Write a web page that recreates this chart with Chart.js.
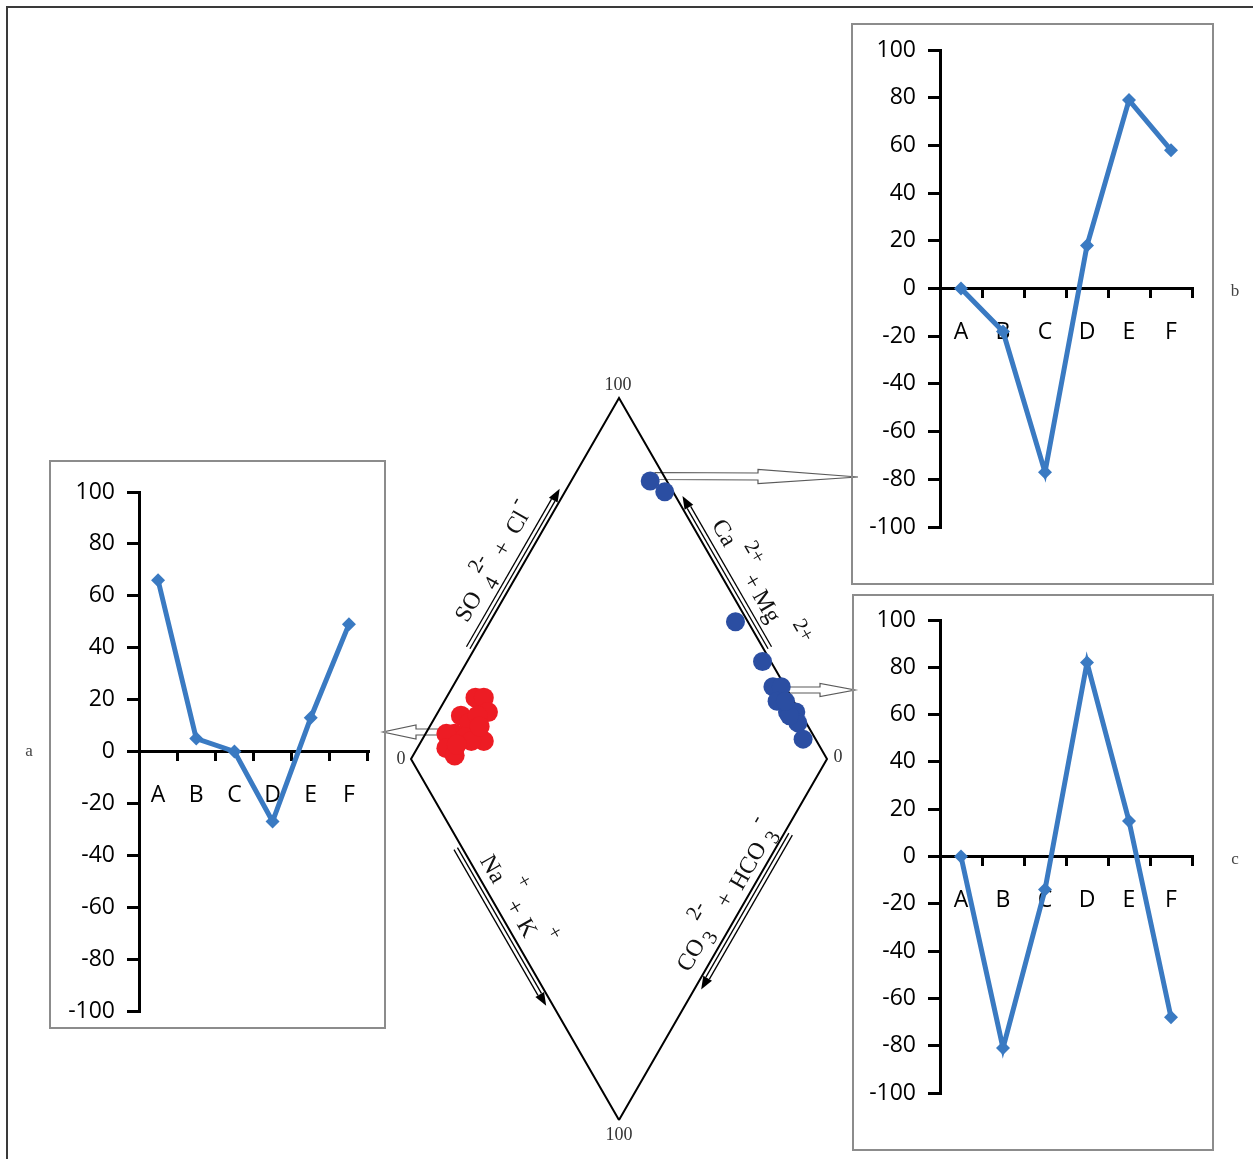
<!DOCTYPE html>
<html>
<head>
<meta charset="utf-8">
<title>Diagrama de Piper</title>
<script src="https://cdn.jsdelivr.net/npm/chart.js@4.4.1/dist/chart.umd.min.js"></script>
<style>
  body { margin: 0; background: #fff; }
  #pagina { position: relative; width: 1253px; height: 1159px; overflow: hidden; background: #fff; }
  #piper { position: absolute; left: 0; top: 0; }
  .caixa { position: absolute; border: 2px solid #8c8c8c; }
  .caixa canvas { display: block; }
</style>
</head>
<body>
<div id="pagina">
  <canvas id="piper" width="1253" height="1159"></canvas>
  <div class="caixa" style="left:49px;top:460px;"><canvas id="graficoA" width="333" height="565"></canvas></div>
  <div class="caixa" style="left:851px;top:23px;"><canvas id="graficoB" width="359" height="558"></canvas></div>
  <div class="caixa" style="left:852px;top:594px;"><canvas id="graficoC" width="358" height="553"></canvas></div>
</div>
<script>
// Categorias e valores dos gráficos a, b, c
const categorias = ['A', 'B', 'C', 'D', 'E', 'F'];
const valoresA = [66, 5, 0, -27, 13, 49];
const valoresB = [0, -18, -77, 18, 79, 58];
const valoresC = [0, -81, -14, 82, 15, -68];
const ticksY = [-100, -80, -60, -40, -20, 0, 20, 40, 60, 80, 100];

// Pontos do diagrama (% SO4+Cl e % Ca+Mg)
const vermelhoSO4Cl = [24, 26, 25, 18, 19, 22, 14, 12, 20, 16, 10, 11, 17, 21, 13];
const vermelhoCaMg  = [93, 91, 88, 94, 91, 90, 93, 95, 85, 90, 93, 90, 88, 88, 91];
const azulSO4Cl = [96, 98, 97, 98, 97, 99, 96, 97, 99, 98, 97, 97, 98];
const azulCaMg  = [81, 76, 41, 29, 23, 21, 20, 16, 14, 12, 8.5, 15, 18];

// Contorno do losango: base, esquerda, topo, direita, base
const losangoSO4Cl = [0, 0, 100, 100, 0];
const losangoCaMg  = [0, 100, 100, 0, 0];

const R3 = Math.sqrt(3);
const corLinha = '#3a7ac2';
const fonteEixo = { family: 'Open Sans', size: 23 };
const fonteSerif = '"Liberation Serif", "DejaVu Serif", serif';

// Converte (SO4+Cl, Ca+Mg) para coordenadas do losango
function paraLosango(s, c) {
    return { x: (s - c) / 2, y: (s + c) / 2 * R3 };
}

function pontos(listaS, listaC) {
    return listaS.map((s, i) => paraLosango(s, listaC[i]));
}

function pix(chart, s, c) {
    const p = paraLosango(s, c);
    return { x: chart.scales.x.getPixelForValue(p.x), y: chart.scales.y.getPixelForValue(p.y) };
}

// Seta vazada (contorno cinza, fundo branco)
function setaVazada(ctx, x1, y1, x2, y2, meiaHaste, meiaPonta, compPonta) {
    const ang = Math.atan2(y2 - y1, x2 - x1);
    const L = Math.hypot(x2 - x1, y2 - y1);
    ctx.save();
    ctx.translate(x1, y1);
    ctx.rotate(ang);
    ctx.beginPath();
    ctx.moveTo(0, -meiaHaste);
    ctx.lineTo(L - compPonta, -meiaHaste);
    ctx.lineTo(L - compPonta, -meiaPonta);
    ctx.lineTo(L, 0);
    ctx.lineTo(L - compPonta, meiaPonta);
    ctx.lineTo(L - compPonta, meiaHaste);
    ctx.lineTo(0, meiaHaste);
    ctx.closePath();
    ctx.fillStyle = '#fff';
    ctx.fill();
    ctx.strokeStyle = '#5a5a5a';
    ctx.lineWidth = 1.2;
    ctx.stroke();
    ctx.restore();
}

// Arestas com seta e rótulo
const arestas = [
    { de: [0, 100], para: [100, 100], t0: 0.30, t1: 0.74, lado: -1, ang: -Math.PI / 3, tr: 0.53, off: 25,
      partes: [['SO', -60, 0], ['4', -28, 8, 1], ['2-', -18, -14, 1], ['+', 7, 0], ['Cl', 37, 0], ['-', 55, -13, 1]] },
    { de: [100, 0], para: [100, 100], t0: 0.30, t1: 0.72, lado: 1, ang: Math.PI / 3, tr: 0.445, off: 23,
      partes: [['Ca', -62, 0], ['2+', -30, -17, 1], ['+', -6, 0], ['Mg', 23, 0], ['2+', 62, -20, 1]] },
    { de: [0, 100], para: [0, 0], t0: 0.24, t1: 0.675, lado: 1, ang: Math.PI / 3, tr: 0.43, off: -15,
      partes: [['Na', -43, 0], ['+', -17, -21, 1], ['+', 1, 0], ['K', 25, 0], ['+', 43, -22, 1]] },
    { de: [100, 0], para: [0, 0], t0: 0.20, t1: 0.63, lado: -1, ang: -Math.PI / 3, tr: 0.393, off: -19,
      partes: [['CO', -74, 0], ['3', -49, 8, 1], ['2-', -33, -18, 1], ['+', -9, 2], ['HCO', 32, 5], ['3', 69, 12, 1], ['-', 76, -12, 1]] }
];

function geometria(chart, a) {
    const p0 = pix(chart, a.de[0], a.de[1]);
    const p1 = pix(chart, a.para[0], a.para[1]);
    const L = Math.hypot(p1.x - p0.x, p1.y - p0.y);
    const d = { x: (p1.x - p0.x) / L, y: (p1.y - p0.y) / L };
    const n = { x: -d.y * a.lado, y: d.x * a.lado };
    return { p0, L, d, n };
}

function setaAresta(ctx, chart, a) {
    const g = geometria(chart, a);
    const ini = { x: g.p0.x + g.d.x * g.L * a.t0, y: g.p0.y + g.d.y * g.L * a.t0 };
    const fim = { x: g.p0.x + g.d.x * g.L * a.t1, y: g.p0.y + g.d.y * g.L * a.t1 };
    const cabeca = 13;
    ctx.save();
    ctx.strokeStyle = '#000';
    ctx.lineWidth = 1.3;
    [4, 8].forEach(o => {
        ctx.beginPath();
        ctx.moveTo(ini.x + g.n.x * o, ini.y + g.n.y * o);
        ctx.lineTo(fim.x - g.d.x * cabeca + g.n.x * o, fim.y - g.d.y * cabeca + g.n.y * o);
        ctx.stroke();
    });
    const tip = { x: fim.x + g.n.x * 6, y: fim.y + g.n.y * 6 };
    const base = { x: tip.x - g.d.x * cabeca, y: tip.y - g.d.y * cabeca };
    ctx.beginPath();
    ctx.moveTo(tip.x, tip.y);
    ctx.lineTo(base.x + g.n.x * 5, base.y + g.n.y * 5);
    ctx.lineTo(base.x - g.n.x * 5, base.y - g.n.y * 5);
    ctx.closePath();
    ctx.fillStyle = '#000';
    ctx.fill();
    ctx.restore();
}

function rotuloAresta(ctx, chart, a) {
    const g = geometria(chart, a);
    const cx = g.p0.x + g.d.x * g.L * a.tr + g.n.x * a.off;
    const cy = g.p0.y + g.d.y * g.L * a.tr + g.n.y * a.off;
    ctx.save();
    ctx.translate(cx, cy);
    ctx.rotate(a.ang);
    ctx.fillStyle = '#111';
    ctx.textAlign = 'center';
    ctx.textBaseline = 'middle';
    a.partes.forEach(p => {
        ctx.font = (p[3] ? '21px ' : '24px ') + fonteSerif;
        ctx.fillText(p[0], p[1], p[2]);
    });
    ctx.restore();
}

// Plugin de decoração do diagrama
const decoracaoPiper = {
    id: 'decoracaoPiper',
    beforeDatasetsDraw(chart) {
        const ctx = chart.ctx;
        setaVazada(ctx, 655, 476, 858, 477, 3.5, 7, 100);
        setaVazada(ctx, 786, 690, 855, 690, 3, 6.5, 35);
        setaVazada(ctx, 448, 732, 383, 732, 3, 7, 33);
        arestas.forEach(a => setaAresta(ctx, chart, a));
    },
    afterDatasetsDraw(chart) {
        const ctx = chart.ctx;
        arestas.forEach(a => rotuloAresta(ctx, chart, a));

        ctx.save();
        ctx.fillStyle = '#333';
        ctx.font = '18px ' + fonteSerif;
        ctx.textAlign = 'center';
        ctx.textBaseline = 'middle';
        const topo = pix(chart, 100, 100), base = pix(chart, 0, 0);
        const esq = pix(chart, 0, 100), dir = pix(chart, 100, 0);
        ctx.fillText('100', topo.x - 1, topo.y - 13);
        ctx.fillText('100', base.x, base.y + 15);
        ctx.fillText('0', esq.x - 10, esq.y);
        ctx.fillText('0', dir.x + 11, dir.y - 2);

        ctx.font = '17px ' + fonteSerif;
        ctx.fillStyle = '#444';
        ctx.fillText('a', 29, 752);
        ctx.fillText('b', 1235, 292);
        ctx.fillText('c', 1235, 860);

        // moldura externa
        ctx.strokeStyle = '#3a3a3a';
        ctx.lineWidth = 2;
        ctx.beginPath();
        ctx.moveTo(7, 1159);
        ctx.lineTo(7, 7);
        ctx.lineTo(1253, 7);
        ctx.stroke();
        ctx.restore();
    }
};

new Chart(document.getElementById('piper'), {
    type: 'scatter',
    data: {
        datasets: [
            { data: pontos(vermelhoSO4Cl, vermelhoCaMg), backgroundColor: '#ed1c24', pointRadius: 10, pointBorderWidth: 0, clip: false, order: 1 },
            { data: pontos(azulSO4Cl, azulCaMg), backgroundColor: '#2b4ea2', pointRadius: 9.5, pointBorderWidth: 0, clip: false, order: 1 },
            { data: pontos(losangoSO4Cl, losangoCaMg), showLine: true, borderColor: '#000', borderWidth: 2, pointRadius: 0, fill: false, clip: false, order: 2 }
        ]
    },
    options: {
        responsive: false,
        animation: false,
        layout: { padding: { left: 411, right: 426, top: 398, bottom: 39 } },
        plugins: { legend: { display: false }, tooltip: { enabled: false } },
        scales: {
            x: { type: 'linear', min: -50, max: 50, display: false },
            y: { type: 'linear', min: 0, max: 100 * R3, display: false }
        }
    },
    plugins: [decoracaoPiper]
});

// Gráficos de linha a, b, c
function criarGrafico(id, valores, padding, larguraEixo) {
    return new Chart(document.getElementById(id), {
        type: 'line',
        data: {
            labels: categorias,
            datasets: [{
                data: valores,
                borderColor: corLinha,
                backgroundColor: corLinha,
                borderWidth: 5,
                pointStyle: 'rectRot',
                pointRadius: 7,
                pointBorderWidth: 0,
                tension: 0,
                clip: false
            }]
        },
        options: {
            responsive: false,
            animation: false,
            layout: { padding },
            plugins: { legend: { display: false }, tooltip: { enabled: false } },
            scales: {
                x: {
                    type: 'category',
                    position: { y: 0 },
                    offset: true,
                    grid: { offset: true, drawOnChartArea: false, drawTicks: true, tickLength: 8, color: '#000', lineWidth: 3 },
                    border: { display: true, color: '#000', width: 3 },
                    ticks: { color: '#000', font: fonteEixo, padding: 22, maxRotation: 0 },
                    afterFit: s => { s.height = 0; s.paddingLeft = 0; s.paddingRight = 0; }
                },
                y: {
                    min: -100,
                    max: 100,
                    afterBuildTicks: s => { s.ticks = ticksY.map(v => ({ value: v })); },
                    grid: { drawOnChartArea: false, drawTicks: true, tickLength: 12, color: '#000', lineWidth: 3 },
                    border: { display: true, color: '#000', width: 3 },
                    ticks: { color: '#000', font: fonteEixo, padding: 12 },
                    afterFit: s => { s.width = larguraEixo; s.paddingTop = 0; s.paddingBottom = 0; }
                }
            }
        }
    });
}

criarGrafico('graficoA', valoresA, { left: 0, right: 16, top: 30, bottom: 16 }, 88);
criarGrafico('graficoB', valoresB, { left: 0, right: 20, top: 25, bottom: 56 }, 87);
criarGrafico('graficoC', valoresC, { left: 0, right: 20, top: 24, bottom: 56 }, 86);
</script>
</body>
</html>
